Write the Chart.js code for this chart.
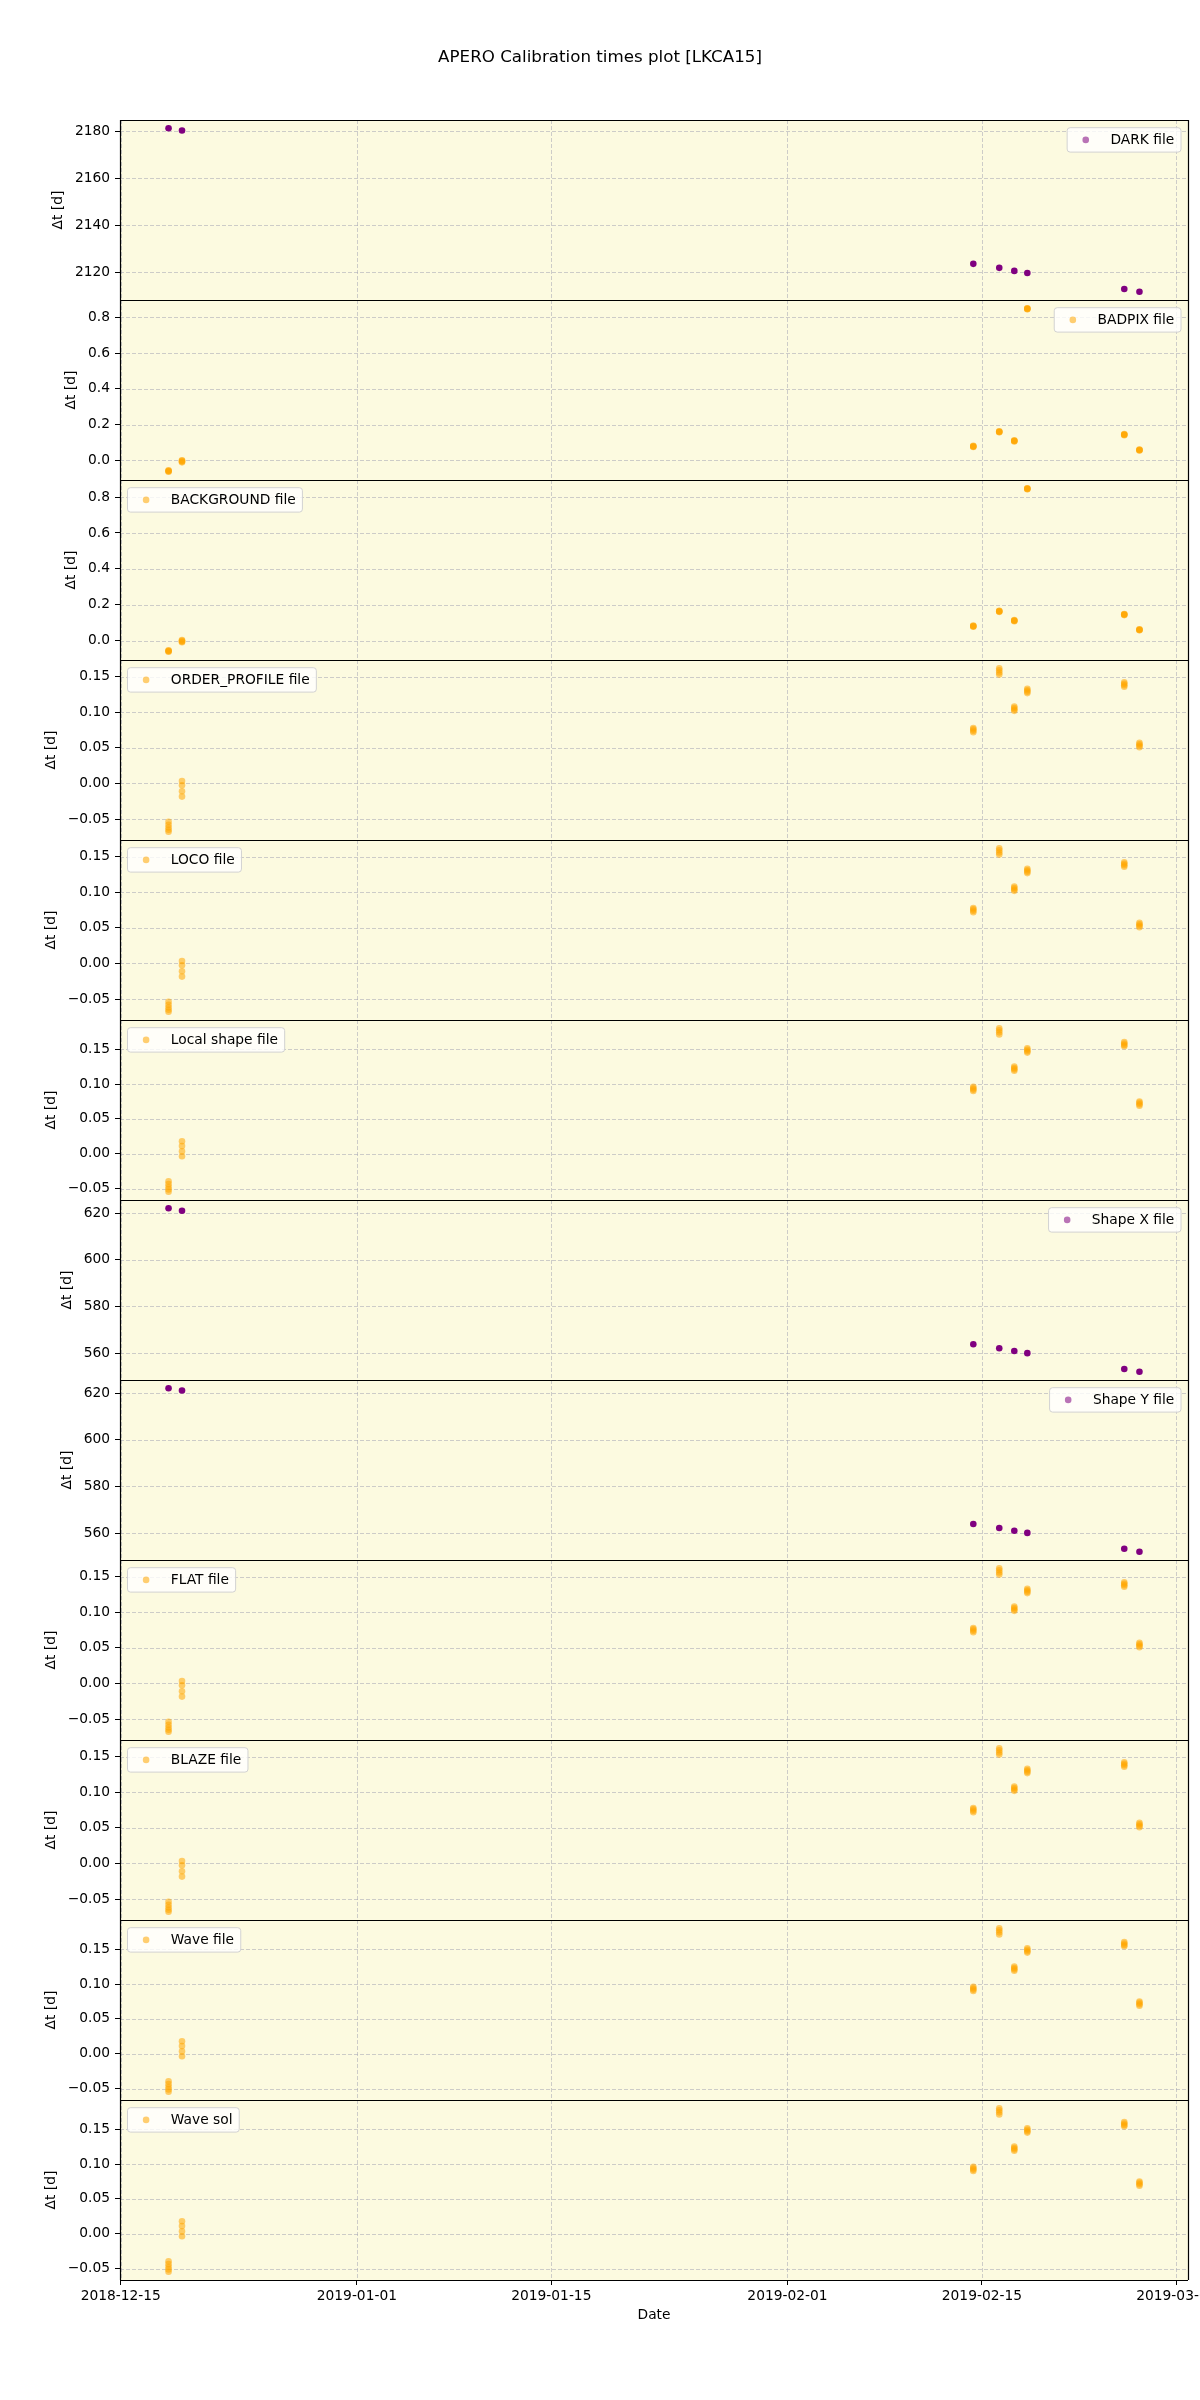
<!DOCTYPE html>
<html>
<head>
<meta charset="utf-8">
<title>APERO Calibration times plot [LKCA15]</title>
<script src="https://cdn.jsdelivr.net/npm/chart.js@4.4.1/dist/chart.umd.min.js"></script>
<style>
  html, body { margin: 0; padding: 0; background: #fff; }
  canvas { display: block; }
</style>
</head>
<body>
<canvas id="calibChart" width="1200" height="2400"></canvas>
<script>
// ---- data ----
const chartTitle = 'APERO Calibration times plot [LKCA15]';
const yTitle = '\u0394t [d]';
const xTitle = 'Date';
const xTickLabels = ['2018-12-15', '2019-01-01', '2019-01-15', '2019-02-01', '2019-02-15', '2019-03-01'];

// observation nights (UTC)
const nightTimes = ['2018-12-18T10:35', '2018-12-19T09:50', '2019-02-14T09:10', '2019-02-16T06:00',
                    '2019-02-17T08:00', '2019-02-18T06:30', '2019-02-25T06:00', '2019-02-26T08:15'];

// one value per night
const darkDt   = [2181.3, 2180.3, 2123.6, 2121.9, 2120.6, 2119.7, 2112.9, 2111.7];
const shapeXDt = [622.1, 621.0, 563.8, 562.1, 560.9, 560.0, 553.2, 552.0];
const shapeYDt = [622.1, 621.1, 563.9, 562.2, 561.0, 560.1, 553.3, 552.0];

// several exposures per night
const badpixDt = [[-0.055, -0.058, -0.061, -0.064], [0.001, -0.003, -0.007, -0.011], [0.075, 0.077, 0.079, 0.081], [0.157, 0.159, 0.161, 0.163],
                  [0.106, 0.108, 0.110, 0.112], [0.845, 0.847, 0.849, 0.851], [0.141, 0.143, 0.145, 0.147], [0.055, 0.057, 0.059, 0.061]];
const backgroundDt = [[-0.054, -0.057, -0.060, -0.063], [0.002, -0.002, -0.006, -0.010], [0.077, 0.079, 0.081, 0.083], [0.160, 0.162, 0.164, 0.166],
                      [0.108, 0.110, 0.112, 0.114], [0.844, 0.846, 0.848, 0.850], [0.142, 0.144, 0.146, 0.148], [0.057, 0.059, 0.061, 0.063]];
const orderProfileDt = [[-0.054, -0.058, -0.062, -0.065, -0.068], [0.0035, -0.0025, -0.011, -0.0185], [0.078, 0.076, 0.074, 0.072], [0.162, 0.159, 0.156, 0.153],
                        [0.108, 0.106, 0.104, 0.102], [0.133, 0.131, 0.129, 0.127], [0.142, 0.140, 0.138, 0.136], [0.057, 0.055, 0.053, 0.051]];
const locoDt = [[-0.054, -0.058, -0.062, -0.065, -0.068], [0.0035, -0.0025, -0.011, -0.0185], [0.078, 0.076, 0.074, 0.072], [0.162, 0.159, 0.156, 0.153],
                [0.108, 0.106, 0.104, 0.102], [0.133, 0.131, 0.129, 0.127], [0.142, 0.140, 0.138, 0.136], [0.057, 0.055, 0.053, 0.051]];
const localShapeDt = [[-0.0395, -0.0435, -0.0475, -0.051, -0.0545], [0.018, 0.011, 0.0035, -0.0035], [0.096, 0.094, 0.092, 0.090], [0.180, 0.177, 0.174, 0.171],
                      [0.125, 0.123, 0.121, 0.119], [0.151, 0.149, 0.147, 0.145], [0.160, 0.158, 0.156, 0.154], [0.075, 0.073, 0.071, 0.069]];
const flatDt = [[-0.054, -0.058, -0.062, -0.065, -0.068], [0.0035, -0.0025, -0.011, -0.0185], [0.078, 0.076, 0.074, 0.072], [0.162, 0.159, 0.156, 0.153],
                [0.108, 0.106, 0.104, 0.102], [0.133, 0.131, 0.129, 0.127], [0.142, 0.140, 0.138, 0.136], [0.057, 0.055, 0.053, 0.051]];
const blazeDt = [[-0.054, -0.058, -0.062, -0.065, -0.068], [0.0035, -0.0025, -0.011, -0.0185], [0.078, 0.076, 0.074, 0.072], [0.162, 0.159, 0.156, 0.153],
                 [0.108, 0.106, 0.104, 0.102], [0.133, 0.131, 0.129, 0.127], [0.142, 0.140, 0.138, 0.136], [0.057, 0.055, 0.053, 0.051]];
const waveFileDt = [[-0.0395, -0.0435, -0.0475, -0.051, -0.0545], [0.018, 0.011, 0.0035, -0.0035], [0.096, 0.094, 0.092, 0.090], [0.180, 0.177, 0.174, 0.171],
                    [0.125, 0.123, 0.121, 0.119], [0.151, 0.149, 0.147, 0.145], [0.160, 0.158, 0.156, 0.154], [0.075, 0.073, 0.071, 0.069]];
const waveSolDt = [[-0.0395, -0.0435, -0.0475, -0.051, -0.0545], [0.018, 0.011, 0.0035, -0.0035], [0.096, 0.094, 0.092, 0.090], [0.180, 0.177, 0.174, 0.171],
                   [0.125, 0.123, 0.121, 0.119], [0.151, 0.149, 0.147, 0.145], [0.160, 0.158, 0.156, 0.154], [0.075, 0.073, 0.071, 0.069]];

// y tick values per panel
const darkTicks = [2120, 2140, 2160, 2180];
const fracTicks = [0.0, 0.2, 0.4, 0.6, 0.8];
const smallTicks = [-0.05, 0.00, 0.05, 0.10, 0.15];
const shapeTicks = [560, 580, 600, 620];

// ---- styles ----
const PURPLE = '#800080', PURPLE_A = 'rgba(128,0,128,0.55)';
const ORANGE_A = 'rgba(255,165,0,0.55)';
const panelFill = '#fcfae0';
const gridColor = 'rgba(165,165,180,0.55)';
const FONT = '"DejaVu Sans", Verdana, sans-serif';
const tickFont = { family: FONT, size: 13.8 };

// panels top to bottom
const panels = [
  { label: 'DARK file',          values: darkDt,         ticks: darkTicks,  color: PURPLE,   legendColor: PURPLE_A, side: 'right' },
  { label: 'BADPIX file',        values: badpixDt,       ticks: fracTicks,  color: ORANGE_A, legendColor: ORANGE_A, side: 'right' },
  { label: 'BACKGROUND file',    values: backgroundDt,   ticks: fracTicks,  color: ORANGE_A, legendColor: ORANGE_A, side: 'left' },
  { label: 'ORDER_PROFILE file', values: orderProfileDt, ticks: smallTicks, color: ORANGE_A, legendColor: ORANGE_A, side: 'left' },
  { label: 'LOCO file',          values: locoDt,         ticks: smallTicks, color: ORANGE_A, legendColor: ORANGE_A, side: 'left' },
  { label: 'Local shape file',   values: localShapeDt,   ticks: smallTicks, color: ORANGE_A, legendColor: ORANGE_A, side: 'left' },
  { label: 'Shape X file',       values: shapeXDt,       ticks: shapeTicks, color: PURPLE,   legendColor: PURPLE_A, side: 'right' },
  { label: 'Shape Y file',       values: shapeYDt,       ticks: shapeTicks, color: PURPLE,   legendColor: PURPLE_A, side: 'right' },
  { label: 'FLAT file',          values: flatDt,         ticks: smallTicks, color: ORANGE_A, legendColor: ORANGE_A, side: 'left' },
  { label: 'BLAZE file',         values: blazeDt,        ticks: smallTicks, color: ORANGE_A, legendColor: ORANGE_A, side: 'left' },
  { label: 'Wave file',          values: waveFileDt,     ticks: smallTicks, color: ORANGE_A, legendColor: ORANGE_A, side: 'left' },
  { label: 'Wave sol',           values: waveSolDt,      ticks: smallTicks, color: ORANGE_A, legendColor: ORANGE_A, side: 'left' }
];

// ---- helpers ----
const DAY = 86400000;
const t0 = Date.parse(xTickLabels[0] + 'T00:00:00Z');
const toDays = s => (Date.parse(s.length > 10 ? s + ':00Z' : s + 'T00:00:00Z') - t0) / DAY;
const nightX = nightTimes.map(toDays);
const xTicks = xTickLabels.map(toDays);

// matplotlib style 5% margins
function padded(vals) {
  const lo = Math.min(...vals), hi = Math.max(...vals), m = (hi - lo) * 0.05;
  return { min: lo - m, max: hi + m };
}
const xRange = padded(nightX);

function fmt(v, dec) {
  return v.toFixed(dec).replace('-', '\u2212');
}
function decimalsFor(ticks) {
  return Math.max(0, Math.ceil(-Math.log10(ticks[1] - ticks[0]) - 1e-9));
}

const datasets = panels.map((p, i) => {
  const pts = [];
  p.values.forEach((v, n) => {
    [].concat(v).forEach(y => pts.push({ x: nightX[n], y: y }));
  });
  p.points = pts;
  return {
    label: p.label,
    yAxisID: 'y' + i,
    data: pts,
    showLine: false,
    pointRadius: 3.3,
    pointHoverRadius: 3.3,
    pointBorderWidth: 0,
    pointBackgroundColor: p.color,
    pointBorderColor: p.color
  };
});

const scales = {
  x: {
    type: 'linear',
    position: 'bottom',
    min: xRange.min,
    max: xRange.max,
    afterBuildTicks: s => { s.ticks = xTicks.map(v => ({ value: v })); },
    afterFit: s => { s.height = 120; s.paddingLeft = 0; s.paddingRight = 0; },
    ticks: {
      callback: (v, idx) => xTickLabels[idx],
      autoSkip: false, maxRotation: 0, minRotation: 0,
      font: tickFont, color: '#000', padding: 3
    },
    grid: { drawOnChartArea: false, drawTicks: true, tickLength: 5, tickColor: '#000', tickWidth: 1 },
    border: { display: false }
  }
};
// stacked left axes: the last one added ends up on top, so add bottom panel first
for (let i = panels.length - 1; i >= 0; i--) {
  const p = panels[i];
  const r = padded(p.points.map(pt => pt.y));
  const dec = decimalsFor(p.ticks);
  scales['y' + i] = {
    type: 'linear',
    position: 'left',
    stack: 'panels',
    stackWeight: 1,
    bounds: 'data',
    min: r.min,
    max: r.max,
    afterBuildTicks: s => { s.ticks = p.ticks.map(v => ({ value: v })); },
    afterFit: s => { s.width = 120; s.paddingTop = 0; s.paddingBottom = 0; },
    ticks: {
      callback: v => fmt(v, dec),
      autoSkip: false, font: tickFont, color: '#000', padding: 5
    },
    grid: { drawOnChartArea: false, drawTicks: true, tickLength: 5, tickColor: '#000', tickWidth: 1 },
    border: { display: false }
  };
}

function hLine(ctx, x1, x2, y) { ctx.beginPath(); ctx.moveTo(x1, y); ctx.lineTo(x2, y); ctx.stroke(); }
function vLine(ctx, x, y1, y2) { ctx.beginPath(); ctx.moveTo(x, y1); ctx.lineTo(x, y2); ctx.stroke(); }

function roundBox(ctx, x, y, w, h, r) {
  ctx.beginPath();
  ctx.moveTo(x + r, y);
  ctx.arcTo(x + w, y, x + w, y + h, r);
  ctx.arcTo(x + w, y + h, x, y + h, r);
  ctx.arcTo(x, y + h, x, y, r);
  ctx.arcTo(x, y, x + w, y, r);
  ctx.closePath();
}

const panelDecor = {
  id: 'panelDecor',
  beforeDatasetsDraw(chart) {
    const { ctx, chartArea } = chart;
    const xs = chart.scales.x;
    ctx.save();
    panels.forEach((p, i) => {
      const ys = chart.scales['y' + i];
      ctx.fillStyle = panelFill;
      ctx.fillRect(chartArea.left, ys.top, chartArea.right - chartArea.left, ys.bottom - ys.top);
      ctx.strokeStyle = gridColor;
      ctx.lineWidth = 1;
      ctx.setLineDash([4, 2]);
      ys.ticks.forEach(t => {
        hLine(ctx, chartArea.left, chartArea.right, Math.round(ys.getPixelForValue(t.value)) + 0.5);
      });
      xs.ticks.forEach(t => {
        vLine(ctx, Math.round(xs.getPixelForValue(t.value)) + 0.5, ys.top, ys.bottom);
      });
      ctx.setLineDash([]);
    });
    ctx.restore();
  },
  afterDatasetsDraw(chart) {
    const { ctx, chartArea } = chart;
    ctx.save();
    // frames
    ctx.strokeStyle = '#000';
    ctx.lineWidth = 1.2;
    panels.forEach((p, i) => {
      const ys = chart.scales['y' + i];
      hLine(ctx, chartArea.left, chartArea.right, Math.round(ys.top) + 0.5);
    });
    hLine(ctx, chartArea.left, chartArea.right, Math.round(chartArea.bottom) + 0.5);
    vLine(ctx, Math.round(chartArea.left) + 0.5, chartArea.top, chartArea.bottom);
    vLine(ctx, Math.round(chartArea.right) + 0.5, chartArea.top, chartArea.bottom);

    // legends
    ctx.font = '13.8px ' + FONT;
    panels.forEach((p, i) => {
      const ys = chart.scales['y' + i];
      const tw = ctx.measureText(p.label).width;
      const w = 43.5 + tw + 6.5, h = 24.4;
      const x = p.side === 'right' ? chartArea.right - 7 - w : chartArea.left + 7.5;
      const y = ys.top + 7.7;
      roundBox(ctx, x, y, w, h, 3);
      ctx.fillStyle = 'rgba(255,255,255,0.8)';
      ctx.fill();
      ctx.strokeStyle = '#d2d2d2';
      ctx.lineWidth = 1;
      ctx.stroke();
      ctx.beginPath();
      ctx.arc(x + 18.6, y + h / 2, 3.3, 0, Math.PI * 2);
      ctx.fillStyle = p.legendColor;
      ctx.fill();
      ctx.fillStyle = '#000';
      ctx.textAlign = 'left';
      ctx.textBaseline = 'middle';
      ctx.fillText(p.label, x + 43.3, y + h / 2 + 0.5);
    });
    ctx.restore();
  },
  afterDraw(chart) {
    const { ctx, chartArea } = chart;
    ctx.save();
    ctx.fillStyle = '#000';
    ctx.textAlign = 'center';
    ctx.textBaseline = 'middle';
    // y titles, placed left of the widest tick label like matplotlib
    ctx.font = '13.8px ' + FONT;
    panels.forEach((p, i) => {
      const ys = chart.scales['y' + i];
      const dec = decimalsFor(p.ticks);
      const maxW = Math.max(...p.ticks.map(v => ctx.measureText(fmt(v, dec)).width));
      const xc = chartArea.left - 10 - maxW - 16.5;
      ctx.save();
      ctx.translate(xc, (ys.top + ys.bottom) / 2);
      ctx.rotate(-Math.PI / 2);
      ctx.fillText(yTitle, 0, 0);
      ctx.restore();
    });
    ctx.fillText(xTitle, (chartArea.left + chartArea.right) / 2, chartArea.bottom + 35);
    ctx.font = '16.7px ' + FONT;
    ctx.fillText(chartTitle, 600, 57.5);
    ctx.restore();
  }
};

new Chart(document.getElementById('calibChart'), {
  type: 'scatter',
  data: { datasets: datasets },
  options: {
    responsive: false,
    animation: false,
    devicePixelRatio: 1,
    events: [],
    layout: { padding: { top: 120, right: 12, bottom: 0, left: 0 } },
    plugins: {
      legend: { display: false },
      title: { display: false },
      tooltip: { enabled: false }
    },
    scales: scales
  },
  plugins: [panelDecor]
});
</script>
</body>
</html>
